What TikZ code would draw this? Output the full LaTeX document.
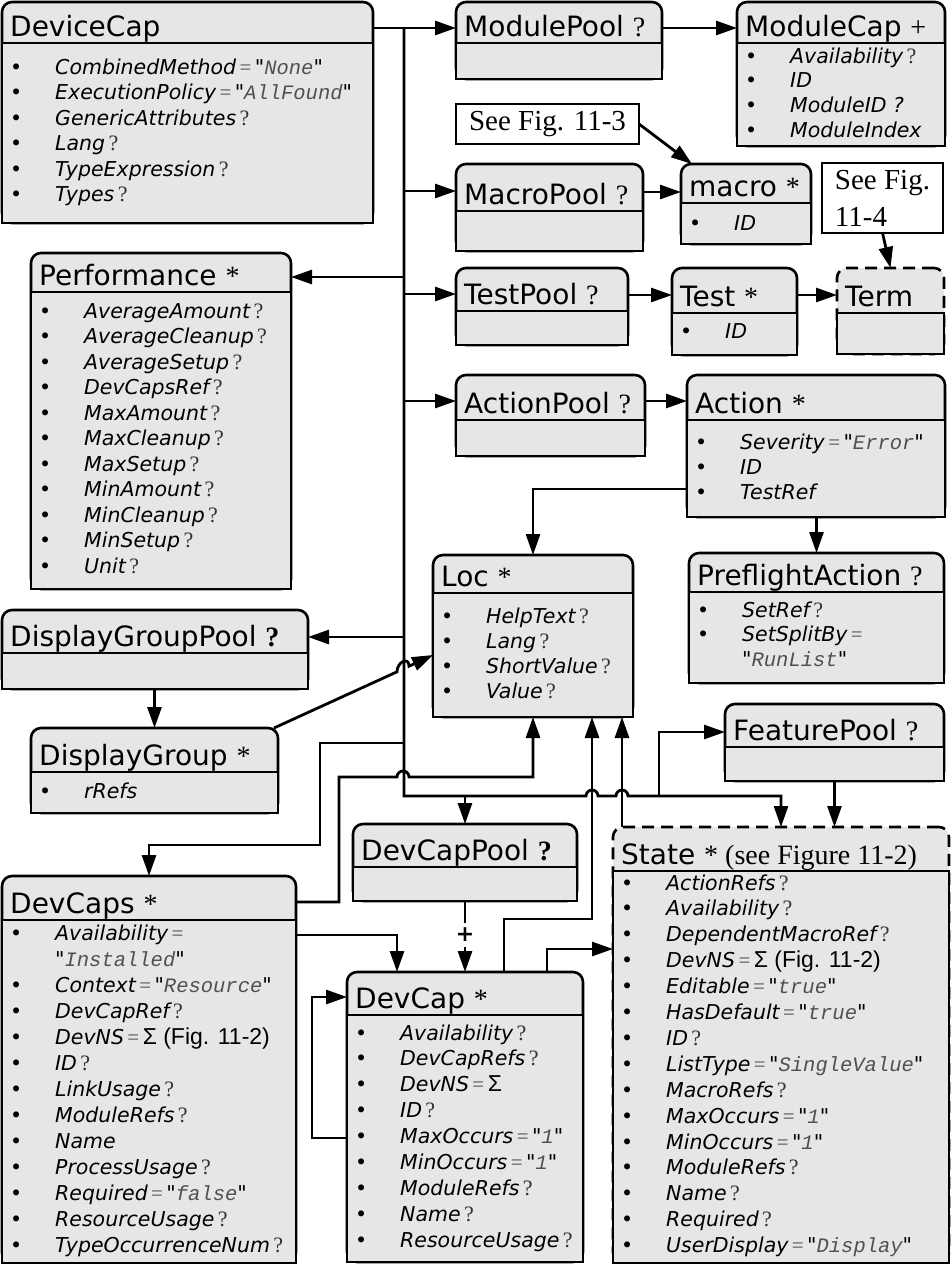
\documentclass[tikz,border=0pt]{standalone}
\usepackage{fontspec}
\setmainfont{DejaVu Sans}
\newfontfamily\tms{Liberation Serif}
\newfontfamily\crr{Liberation Mono}
\newfontfamily\arl{Liberation Sans}
\newfontfamily\qfont{DejaVu Sans}[Ligatures=TeXOff]
\usetikzlibrary{arrows.meta,calc}
\definecolor{boxgray}{RGB}{230,230,230}
\definecolor{valgray}{RGB}{80,80,80}

% attribute pieces
\newcommand\abul{\makebox[45pt][l]{\textbullet}}
\newcommand\anob{\hspace*{45pt}}
\newcommand\aname[1]{{\itshape #1}}
\newcommand\aopt{\,{\tms\fontsize{22}{25}\selectfont\color{black!80}?}}
\newcommand\aeq{\,{\tms\fontsize{21}{25}\selectfont\color{valgray}=}\,}
\newcommand\aval[1]{{\qfont\itshape "}{\crr\itshape\color{valgray}#1}{\qfont\itshape "}}
\newcommand\asig[1]{{\arl\fontsize{23}{25}\selectfont Σ#1}}
\newcommand\topt{\ {\tms ?}}
\newcommand\tstar{\ {\tms *}}

% box: [style] name, x1, y1, x2, y2, divider, title
\newcommand\umlclass[8][]{%
  \node[classbox,#1,minimum width={#5pt-#3pt},minimum height={#6pt-#4pt}] (#2) at ({(#3+#5)/2},{(#4+#6)/2}) {};
  \draw[classbody] (#2.south west) rectangle (#2.east |- 0,#7);
  \node[classtitle] (#2-title) at ({#3+8},{#7-7}) {#8};
}
% attribute lines: name, x, first baseline, spacing, items
\newcommand\attrlist[5]{%
  \foreach \txt [count=\i from 0] in {#5}
    \node[attr] (#1-attr\i) at (#2,{#3+#4*\i}) {\txt};
}

\begin{document}
\begin{tikzpicture}[x=1pt,y=-1pt]

    \tikzset{
      classbox/.style={draw, fill=boxgray, line width=2.6pt, rounded corners=10pt, inner sep=0pt, outer sep=0pt},
      classbody/.style={draw, fill=boxgray, line width=2.6pt},
      dashhead/.style={dash pattern=on 12pt off 7pt},
      classtitle/.style={anchor=base west, inner sep=0pt, font=\fontsize{28}{30}\selectfont},
      attr/.style={anchor=base west, inner sep=0pt, font=\fontsize{20.5}{25}\selectfont},
      figref/.style={draw, fill=white, line width=2.6pt, inner sep=0pt, outer sep=0pt, align=left, font=\tms\fontsize{29}{37}\selectfont},
      line/.style={line width=2.8pt},
      conn/.style={line width=2.8pt, -{Triangle[length=21pt,width=14pt]}},
    }
    \useasboundingbox (0,0) rectangle (951,1264);
    \fill[white] (0,0) rectangle (951,1264);
    \coordinate (trunk) at (404,0);

	\umlclass{devicecap}{2}{2}{373}{223}{43}{DeviceCap}
	\attrlist{devicecap}{10}{74}{25.5}{
	  {\abul\aname{CombinedMethod}\aeq\aval{None}},
	  {\abul\aname{ExecutionPolicy}\aeq\aval{AllFound}},
	  {\abul\aname{GenericAttributes}\aopt},
	  {\abul\aname{Lang}\aopt},
	  {\abul\aname{TypeExpression}\aopt},
	  {\abul\aname{Types}\aopt}}

	\umlclass{modulepool}{456}{2}{662}{79}{43}{ModulePool\topt}
	\umlclass{modulecap}{737}{2}{945}{146}{43}{ModuleCap\ {\tms +}}
	\attrlist{modulecap}{745}{63}{24.7}{
	  {\abul\aname{Availability}\aopt},
	  {\abul\aname{ID}},
	  {\abul\aname{ModuleID ?}},
	  {\abul\aname{ModuleIndex}}}

	\node[figref, minimum width=183pt, minimum height=40pt] (fig113) at (547.5,124) {See Fig. 11-3};
	\node[figref, minimum width=121pt, minimum height=70pt] (fig114) at (882.5,198) {See Fig.\\11-4};

	\umlclass{macropool}{456}{164}{643}{251}{211}{MacroPool\topt}
	\umlclass{macro}{681}{164}{811}{244}{203}{macro\tstar}
	\attrlist{macro}{689}{230}{25}{{\abul\aname{ID}}}

	\umlclass{testpool}{456}{268}{628}{345}{311}{TestPool\topt}
	\umlclass{test}{672}{268}{797}{355}{313}{Test\tstar}
	\attrlist{test}{680}{338}{25}{{\abul\aname{ID}}}
	\umlclass[dashhead]{term}{837}{268}{944}{354}{313}{Term}

	\umlclass{performance}{31}{253}{291}{589}{292}{Performance\tstar}
	\attrlist{performance}{39}{318}{25.5}{
	  {\abul\aname{AverageAmount}\aopt},
	  {\abul\aname{AverageCleanup}\aopt},
	  {\abul\aname{AverageSetup}\aopt},
	  {\abul\aname{DevCapsRef}\aopt},
	  {\abul\aname{MaxAmount}\aopt},
	  {\abul\aname{MaxCleanup}\aopt},
	  {\abul\aname{MaxSetup}\aopt},
	  {\abul\aname{MinAmount}\aopt},
	  {\abul\aname{MinCleanup}\aopt},
	  {\abul\aname{MinSetup}\aopt},
	  {\abul\aname{Unit}\aopt}}

	\umlclass{actionpool}{456}{375}{645}{456}{420}{ActionPool\topt}
	\umlclass{action}{687}{375}{945}{517}{420}{Action\tstar}
	\attrlist{action}{695}{449}{25}{
	  {\abul\aname{Severity}\aeq\aval{Error}},
	  {\abul\aname{ID}},
	  {\abul\aname{TestRef}}}

	\umlclass{loc}{433}{555}{633}{717}{593}{Loc\tstar}
	\attrlist{loc}{441}{623}{25}{
	  {\abul\aname{HelpText}\aopt},
	  {\abul\aname{Lang}\aopt},
	  {\abul\aname{ShortValue}\aopt},
	  {\abul\aname{Value}\aopt}}

	\umlclass{preflight}{689}{553}{944}{683}{592}{PreflightAction\topt}
	\attrlist{preflight}{697}{617}{24.5}{
	  {\abul\aname{SetRef}\aopt},
	  {\abul\aname{SetSplitBy}\aeq},
	  {\anob\aval{RunList}}}

	\umlclass{dgpool}{2}{610}{308}{689}{653}{DisplayGroupPool\ {\tms\bfseries ?}}
	\umlclass{dgroup}{31}{728}{278}{813}{772}{DisplayGroup\tstar}
	\attrlist{dgroup}{39}{798}{25}{{\abul\aname{rRefs}}}

	\umlclass{featurepool}{725}{704}{944}{781}{747}{FeaturePool\topt}
	\umlclass{devcappool}{353}{824}{577}{901}{867}{DevCapPool\ {\tms\bfseries ?}}

	\umlclass[dashhead]{state}{613}{827}{949}{1263}{871}{State\ {\tms * (see Figure 11-2)}}
	\attrlist{state}{621}{890}{25.9}{
	  {\abul\aname{ActionRefs}\aopt},
	  {\abul\aname{Availability}\aopt},
	  {\abul\aname{DependentMacroRef}\aopt},
	  {\abul\aname{DevNS}\aeq\asig{ (Fig. 11-2)}},
	  {\abul\aname{Editable}\aeq\aval{true}},
	  {\abul\aname{HasDefault}\aeq\aval{true}},
	  {\abul\aname{ID}\aopt},
	  {\abul\aname{ListType}\aeq\aval{SingleValue}},
	  {\abul\aname{MacroRefs}\aopt},
	  {\abul\aname{MaxOccurs}\aeq\aval{1}},
	  {\abul\aname{MinOccurs}\aeq\aval{1}},
	  {\abul\aname{ModuleRefs}\aopt},
	  {\abul\aname{Name}\aopt},
	  {\abul\aname{Required}\aopt},
	  {\abul\aname{UserDisplay}\aeq\aval{Display}}}

	\umlclass{devcaps}{2}{876}{296}{1263}{920}{DevCaps\tstar}
	\attrlist{devcaps}{10}{940}{26}{
	  {\abul\aname{Availability}\aeq},
	  {\anob\aval{Installed}},
	  {\abul\aname{Context}\aeq\aval{Resource}},
	  {\abul\aname{DevCapRef}\aopt},
	  {\abul\aname{DevNS}\aeq\asig{ (Fig. 11-2)}},
	  {\abul\aname{ID}\aopt},
	  {\abul\aname{LinkUsage}\aopt},
	  {\abul\aname{ModuleRefs}\aopt},
	  {\abul\aname{Name}},
	  {\abul\aname{ProcessUsage}\aopt},
	  {\abul\aname{Required}\aeq\aval{false}},
	  {\abul\aname{ResourceUsage}\aopt},
	  {\abul\aname{TypeOccurrenceNum}\aopt}}

	\umlclass{devcap}{347}{972}{583}{1262}{1015}{DevCap\tstar}
	\attrlist{devcap}{355}{1040}{25.9}{
	  {\abul\aname{Availability}\aopt},
	  {\abul\aname{DevCapRefs}\aopt},
	  {\abul\aname{DevNS}\aeq\asig{}},
	  {\abul\aname{ID}\aopt},
	  {\abul\aname{MaxOccurs}\aeq\aval{1}},
	  {\abul\aname{MinOccurs}\aeq\aval{1}},
	  {\abul\aname{ModuleRefs}\aopt},
	  {\abul\aname{Name}\aopt},
	  {\abul\aname{ResourceUsage}\aopt}}

	% trunk and its branches
	\draw[conn] (devicecap.east |- 0,28) -- (modulepool.west |- 0,28);
	\draw[conn] (trunk |- 0,28) -- (trunk |- 0,796) -- (586,796) arc[start angle=180,end angle=0,radius=6pt] -- (616,796) arc[start angle=180,end angle=0,radius=6pt] -- (781,796) -- (state.north -| 781,0);
	\draw[conn] (trunk |- 0,191) -- (macropool.west |- 0,191);
	\draw[conn] (trunk |- 0,277) -- (performance.east |- 0,277);
	\draw[conn] (trunk |- 0,294) -- (testpool.west |- 0,294);
	\draw[conn] (trunk |- 0,401) -- (actionpool.west |- 0,401);
	\draw[conn] (trunk |- 0,637) -- (dgpool.east |- 0,637);
	\draw[conn] (trunk |- 0,743) -- (320,743) -- (320,845) -- (devcaps.north |- 0,845) -- (devcaps.north);
	\draw[conn] (devcappool.north |- 0,796) -- (devcappool.north);
	\draw[conn] (659,796) -- (659,732) -- (featurepool.west |- 0,732);
	\draw[conn] (featurepool.south) -- (state.north -| featurepool.south);

	% pools to members
	\draw[conn] (modulepool.east |- 0,28) -- (modulecap.west |- 0,28);
	\draw[conn] (macropool.east |- 0,192) -- (macro.west |- 0,192);
	\draw[conn] (testpool.east |- 0,295) -- (test.west |- 0,295);
	\draw[conn] (test.east |- 0,295) -- (term.west |- 0,295);
	\draw[conn] (actionpool.east |- 0,401) -- (action.west |- 0,401);
	\draw[conn] (fig113.east) -- ([xshift=11pt]macro.north west);
	\draw[conn] (fig114.south) -- (term.north);
	\draw[conn] (action.south -| preflight.north) -- (preflight.north);
	\draw[conn] (dgpool.south -| dgroup.north) -- (dgroup.north);

	% references to Loc
	\draw[conn] (action.west |- 0,489) -- (loc.north |- 0,489) -- (loc.north);
	\draw[conn] ([xshift=-4pt]dgroup.north east) -- (397,671.8) .. controls +(0,-10) and +(0,-10) .. (409,666.2) -- (loc.west |- 0,655);
	\draw[conn] (devcaps.east |- 0,902) -- (339,902) -- (339,777) -- (397,777) arc[start angle=180,end angle=0,radius=6pt] -- (loc.south |- 0,777) -- (loc.south);
	\draw[conn] (devcap.north -| 504,0) -- (504,919) -- (592,919) -- (loc.south -| 592,0);
	\draw[conn] (state.north -| 622,0) -- (loc.south -| 622,0);

	% DevCap links
	\node[inner sep=5pt, font=\bfseries\fontsize{22}{22}\selectfont] (mult) at (465,935) {+};
	\draw[line] (devcappool.south) -- (mult.north);
	\draw[conn] (mult.south) -- (devcap.north);
	\draw[conn] (devcaps.east |- 0,935) -- (397,935) -- (devcap.north -| 397,0);
	\draw[conn] (devcap.north -| 547,0) -- (547,949) -- (state.west |- 0,949);
	\draw[conn] (devcap.west |- 0,1138) -- (312,1138) -- (312,997) -- (devcap.west |- 0,997);

\end{tikzpicture}
\end{document}
